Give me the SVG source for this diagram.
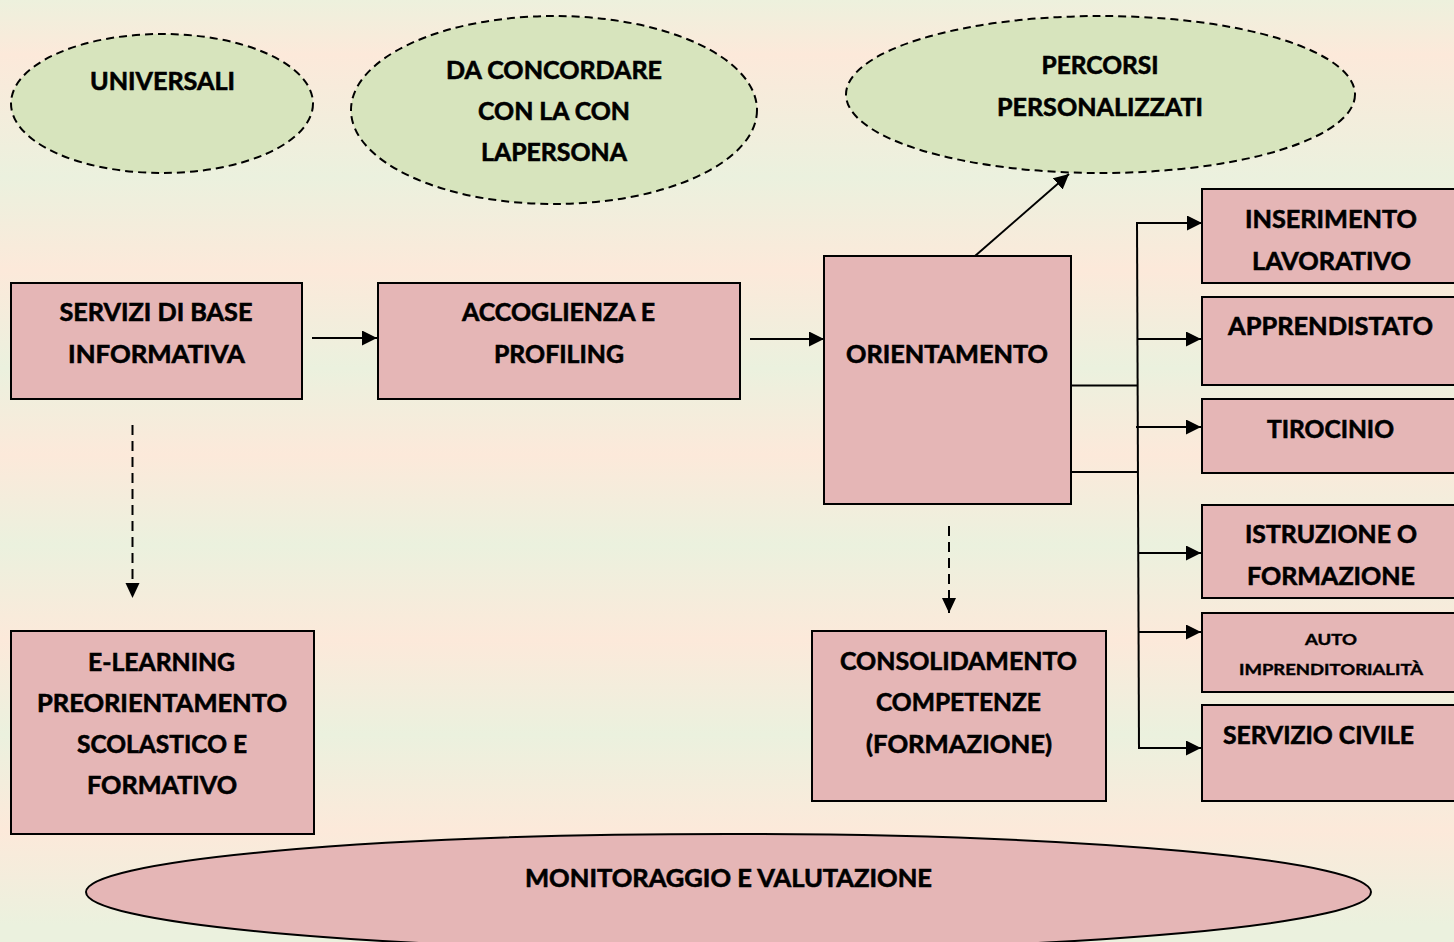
<svg xmlns="http://www.w3.org/2000/svg" width="1454" height="942" viewBox="0 0 1454 942">
<defs>
<linearGradient id="bg" gradientUnits="userSpaceOnUse" x1="0" y1="0" x2="0" y2="942">
<stop offset="0" stop-color="#edf1dd"/>
<stop offset="0.058" stop-color="#fce9da"/>
<stop offset="0.188" stop-color="#ebf1de"/>
<stop offset="0.287" stop-color="#fce9da"/>
<stop offset="0.391" stop-color="#ebf1de"/>
<stop offset="0.483" stop-color="#fce9da"/>
<stop offset="0.579" stop-color="#ebf1de"/>
<stop offset="0.679" stop-color="#fce9da"/>
<stop offset="0.780" stop-color="#ebf1de"/>
<stop offset="0.881" stop-color="#fce9da"/>
<stop offset="0.982" stop-color="#ebf1de"/>
</linearGradient>
<marker id="arr" markerUnits="userSpaceOnUse" markerWidth="16" markerHeight="16" refX="15" refY="7.5" orient="auto">
<path d="M0,0 L15,7.5 L0,15 Z" fill="#000"/>
</marker>
<marker id="arrs" markerUnits="userSpaceOnUse" markerWidth="16" markerHeight="16" refX="15" refY="7" orient="auto">
<path d="M0,0 L15,7 L0,14 Z" fill="#000"/>
</marker>
</defs>
<style>
.box{fill:#e5b6b6;stroke:#000;stroke-width:2}
.ell{fill:#d7e4bd;stroke:#000;stroke-width:2;stroke-dasharray:8,5}
.mon{fill:#e5b6b6;stroke:#000;stroke-width:2}
.t{font-family:Lato,"Open Sans","Liberation Sans",sans-serif;font-weight:700;font-size:25px;fill:#000;stroke:#000;stroke-width:0.6;text-anchor:middle}
.s{font-size:16px;stroke-width:0.4}
.c{fill:none;stroke:#000;stroke-width:2}
.d{fill:none;stroke:#000;stroke-width:2;stroke-dasharray:10,6}
</style>
<rect x="0" y="0" width="1454" height="942" fill="url(#bg)"/>

<g id="universali">
<ellipse class="ell" cx="162" cy="103.5" rx="151" ry="69.5"/>
<text class="t" x="162.5" y="90" textLength="145" lengthAdjust="spacingAndGlyphs">UNIVERSALI</text>
</g>
<g id="da-concordare">
<ellipse class="ell" cx="554" cy="110" rx="203" ry="94"/>
<text class="t" x="554" y="79" textLength="216" lengthAdjust="spacingAndGlyphs">DA CONCORDARE</text>
<text class="t" x="554" y="120" textLength="152" lengthAdjust="spacingAndGlyphs">CON LA CON</text>
<text class="t" x="554" y="161" textLength="146" lengthAdjust="spacingAndGlyphs">LAPERSONA</text>
</g>
<g id="percorsi">
<ellipse class="ell" cx="1100.5" cy="94.5" rx="254.5" ry="78.5"/>
<text class="t" x="1100" y="74" textLength="117" lengthAdjust="spacingAndGlyphs">PERCORSI</text>
<text class="t" x="1100" y="116" textLength="206" lengthAdjust="spacingAndGlyphs">PERSONALIZZATI</text>
</g>

<g id="servizi-base">
<rect class="box" x="11" y="283" width="291" height="116"/>
<text class="t" x="156" y="321" textLength="193" lengthAdjust="spacingAndGlyphs">SERVIZI DI BASE</text>
<text class="t" x="156.5" y="363" textLength="177" lengthAdjust="spacingAndGlyphs">INFORMATIVA</text>
</g>
<g id="accoglienza">
<rect class="box" x="378" y="283" width="362" height="116"/>
<text class="t" x="558.5" y="321" textLength="193" lengthAdjust="spacingAndGlyphs">ACCOGLIENZA E</text>
<text class="t" x="559" y="363" textLength="130" lengthAdjust="spacingAndGlyphs">PROFILING</text>
</g>
<g id="orientamento">
<rect class="box" x="824" y="256" width="247" height="248"/>
<text class="t" x="947" y="363" textLength="202" lengthAdjust="spacingAndGlyphs">ORIENTAMENTO</text>
</g>

<g id="inserimento">
<rect class="box" x="1202" y="189" width="262" height="94"/>
<text class="t" x="1331" y="228" textLength="172" lengthAdjust="spacingAndGlyphs">INSERIMENTO</text>
<text class="t" x="1331.5" y="269.5" textLength="159" lengthAdjust="spacingAndGlyphs">LAVORATIVO</text>
</g>
<g id="apprendistato">
<rect class="box" x="1202" y="297" width="262" height="88"/>
<text class="t" x="1330.5" y="335" textLength="205" lengthAdjust="spacingAndGlyphs">APPRENDISTATO</text>
</g>
<g id="tirocinio">
<rect class="box" x="1202" y="399" width="262" height="74"/>
<text class="t" x="1330.5" y="437.5" textLength="127" lengthAdjust="spacingAndGlyphs">TIROCINIO</text>
</g>
<g id="istruzione">
<rect class="box" x="1202" y="505" width="262" height="93"/>
<text class="t" x="1331" y="543" textLength="172" lengthAdjust="spacingAndGlyphs">ISTRUZIONE O</text>
<text class="t" x="1331" y="585" textLength="168" lengthAdjust="spacingAndGlyphs">FORMAZIONE</text>
</g>
<g id="auto-imprenditorialita">
<rect class="box" x="1202" y="613" width="262" height="79"/>
<text class="t s" x="1331" y="644.5" textLength="52" lengthAdjust="spacingAndGlyphs">AUTO</text>
<text class="t s" x="1331" y="675" textLength="184" lengthAdjust="spacingAndGlyphs">IMPRENDITORIALITÀ</text>
</g>
<g id="servizio-civile">
<rect class="box" x="1202" y="705" width="262" height="96"/>
<text class="t" x="1318.5" y="743.5" textLength="191" lengthAdjust="spacingAndGlyphs">SERVIZIO CIVILE</text>
</g>

<g id="e-learning">
<rect class="box" x="11" y="631" width="303" height="203"/>
<text class="t" x="161.5" y="671" textLength="147" lengthAdjust="spacingAndGlyphs">E-LEARNING</text>
<text class="t" x="162" y="712" textLength="250" lengthAdjust="spacingAndGlyphs">PREORIENTAMENTO</text>
<text class="t" x="162" y="753" textLength="170" lengthAdjust="spacingAndGlyphs">SCOLASTICO E</text>
<text class="t" x="162" y="794" textLength="150" lengthAdjust="spacingAndGlyphs">FORMATIVO</text>
</g>
<g id="consolidamento">
<rect class="box" x="812" y="631" width="294" height="170"/>
<text class="t" x="958.5" y="670" textLength="237" lengthAdjust="spacingAndGlyphs">CONSOLIDAMENTO</text>
<text class="t" x="958.5" y="711" textLength="165" lengthAdjust="spacingAndGlyphs">COMPETENZE</text>
<text class="t" x="959" y="753" textLength="186" lengthAdjust="spacingAndGlyphs">(FORMAZIONE)</text>
</g>

<g id="monitoraggio">
<ellipse class="mon" cx="728.5" cy="892" rx="642.5" ry="58"/>
<text class="t" x="728.5" y="887" textLength="407" lengthAdjust="spacingAndGlyphs">MONITORAGGIO E VALUTAZIONE</text>
</g>

<g id="connectors">
<line class="c" x1="312" y1="338" x2="377" y2="338" marker-end="url(#arr)"/>
<line class="c" x1="750" y1="339" x2="824" y2="339" marker-end="url(#arr)"/>
<line class="c" x1="975" y1="256" x2="1069" y2="174" marker-end="url(#arr)"/>
<line class="d" x1="132.5" y1="425" x2="132.5" y2="598" marker-end="url(#arrs)"/>
<line class="d" x1="949" y1="526" x2="949" y2="613" marker-end="url(#arrs)"/>
<line class="c" x1="1071" y1="385.5" x2="1138" y2="385.5"/>
<line class="c" x1="1071" y1="472" x2="1138" y2="472"/>
<path class="c" d="M1137,222 L1139,749"/>
<line class="c" x1="1137" y1="223" x2="1202" y2="223" marker-end="url(#arr)"/>
<line class="c" x1="1137" y1="339" x2="1201" y2="339" marker-end="url(#arr)"/>
<line class="c" x1="1136" y1="427" x2="1201" y2="427" marker-end="url(#arr)"/>
<line class="c" x1="1138" y1="553" x2="1201" y2="553" marker-end="url(#arr)"/>
<line class="c" x1="1138" y1="632" x2="1201" y2="632" marker-end="url(#arr)"/>
<line class="c" x1="1138" y1="748" x2="1201" y2="748" marker-end="url(#arr)"/>
</g>
</svg>
